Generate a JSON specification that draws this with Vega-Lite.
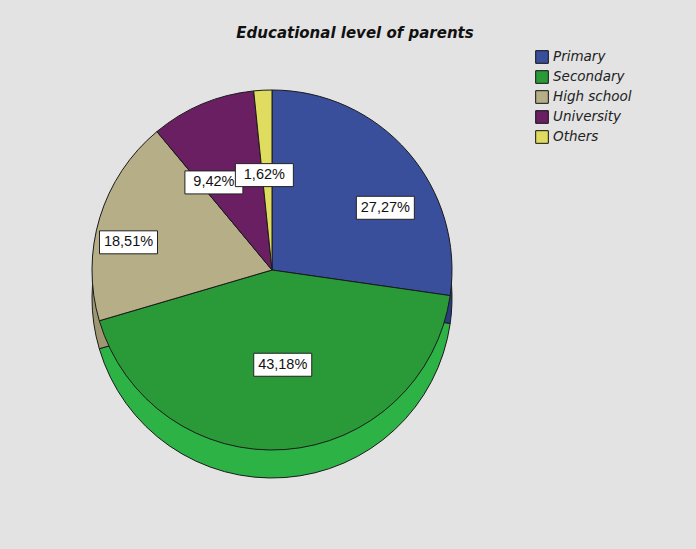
{
  "$schema": "https://vega.github.io/schema/vega-lite/v6.json",
  "width": 544,
  "height": 360,
  "autosize": {"type": "none"},
  "padding": {"left": 0, "top": 90, "right": 152, "bottom": 99},
  "background": "#e3e3e3",
  "config": {"view": {"stroke": null}, "font": "Liberation Sans"},
  "title": {
    "text": "Educational level of parents",
    "font": "DejaVu Sans",
    "fontSize": 15,
    "fontWeight": "bold",
    "fontStyle": "italic",
    "color": "#111111",
    "anchor": "middle",
    "dx": 83,
    "offset": 9
  },
  "data": {
    "values": [
      {"cat": "Primary", "value": 27.27, "ord": 1, "label": "27,27%"},
      {"cat": "Secondary", "value": 43.18, "ord": 2, "label": "43,18%"},
      {"cat": "High school", "value": 18.51, "ord": 3, "label": "18,51%"},
      {"cat": "University", "value": 9.42, "ord": 4, "label": "9,42%"},
      {"cat": "Others", "value": 1.62, "ord": 5, "label": "1,62%"}
    ]
  },
  "layer": [
    {
      "mark": {"type": "arc", "yOffset": 28, "stroke": "#1a1a1a", "strokeWidth": 1},
      "encoding": {
        "theta": {"field": "value", "type": "quantitative", "stack": true},
        "order": {"field": "ord", "type": "quantitative"},
        "color": {
          "field": "cat", "type": "nominal", "legend": null,
          "scale": {
            "domain": ["Primary", "Secondary", "High school", "University", "Others"],
            "range": ["#2a3b7e", "#2db246", "#9f9772", "#4f1749", "#bdb94a"]
          }
        }
      }
    },
    {
      "mark": {"type": "arc", "stroke": "#1a1a1a", "strokeWidth": 1},
      "encoding": {
        "theta": {"field": "value", "type": "quantitative", "stack": true},
        "order": {"field": "ord", "type": "quantitative"},
        "color": {
          "field": "cat", "type": "nominal",
          "scale": {
            "domain": ["Primary", "Secondary", "High school", "University", "Others"],
            "range": ["#3a4f9c", "#2a9a38", "#b6ae87", "#6a1f63", "#e0dc60"]
          },
          "legend": {
            "title": null,
            "orient": "none",
            "legendX": 535,
            "legendY": -40,
            "symbolType": "square",
            "symbolSize": 160,
            "symbolStrokeColor": "#111111",
            "symbolStrokeWidth": 1,
            "labelFont": "DejaVu Sans",
            "labelFontSize": 13.5,
            "labelFontStyle": "italic",
            "labelColor": "#222222",
            "labelOffset": 4,
            "rowPadding": 2
          }
        }
      }
    },
    {
      "transform": [
        {"window": [{"op": "sum", "field": "value", "as": "cum"}], "sort": [{"field": "ord", "order": "ascending"}], "frame": [null, 0]},
        {"calculate": "(datum.cum - datum.value / 2) / 100 * 2 * PI", "as": "mid"},
        {"calculate": "150 * sin(datum.mid)", "as": "lx"},
        {"calculate": "95 * cos(datum.mid)", "as": "ly"}
      ],
      "layer": [
        {
          "mark": {"type": "rect", "width": 58, "height": 23, "fill": "#ffffff", "stroke": "#222222", "strokeWidth": 1},
          "encoding": {
            "x": {"field": "lx", "type": "quantitative", "scale": {"domain": [-272, 272]}, "axis": null},
            "y": {"field": "ly", "type": "quantitative", "scale": {"domain": [-180, 180]}, "axis": null}
          }
        },
        {
          "mark": {"type": "text", "fontSize": 14.5, "font": "Liberation Sans", "color": "#111111", "align": "center", "baseline": "middle"},
          "encoding": {
            "x": {"field": "lx", "type": "quantitative", "scale": {"domain": [-272, 272]}, "axis": null},
            "y": {"field": "ly", "type": "quantitative", "scale": {"domain": [-180, 180]}, "axis": null},
            "text": {"field": "label", "type": "nominal"}
          }
        }
      ]
    }
  ],
  "resolve": {"scale": {"color": "independent"}}
}
